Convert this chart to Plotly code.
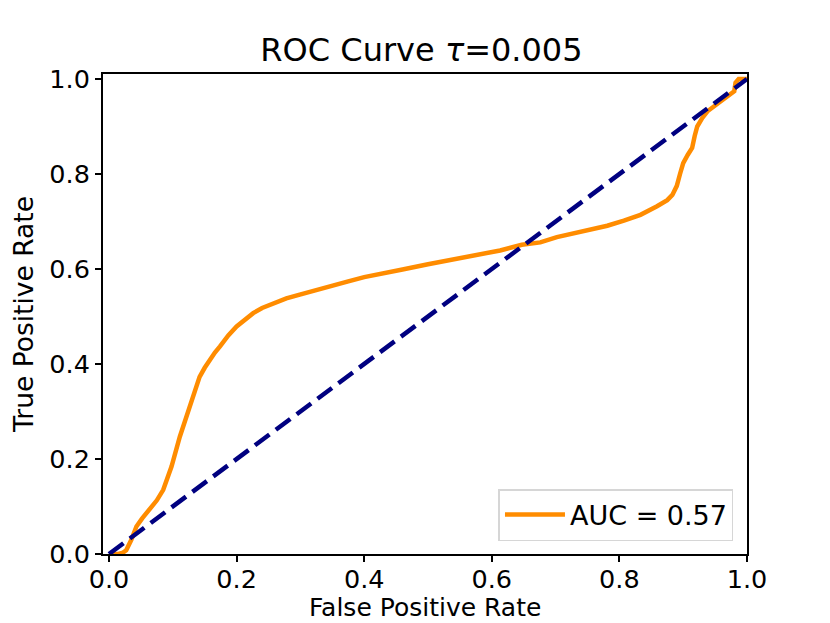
import plotly.graph_objects as go

fpr = [0.0, 0.015, 0.022, 0.027, 0.035, 0.043, 0.052, 0.064, 0.075, 0.085, 0.098, 0.111, 0.12, 0.127,
       0.135, 0.142, 0.15, 0.158, 0.166, 0.174, 0.187, 0.2, 0.213, 0.226, 0.24, 0.257, 0.278, 0.299,
       0.32, 0.341, 0.36, 0.375, 0.4, 0.43, 0.46, 0.5, 0.53, 0.56, 0.59, 0.613, 0.647, 0.676, 0.702,
       0.744, 0.781, 0.807, 0.833, 0.859, 0.875, 0.883, 0.89, 0.895, 0.9, 0.907, 0.914, 0.918,
       0.922, 0.93, 0.938, 0.959, 0.975, 0.98, 0.982, 0.987, 1.0]
tpr = [0.0, 0.0, 0.003, 0.008, 0.03, 0.058, 0.075, 0.093, 0.113, 0.135, 0.184, 0.247, 0.285, 0.31,
       0.345, 0.373, 0.392, 0.409, 0.424, 0.437, 0.46, 0.479, 0.494, 0.507, 0.518, 0.528, 0.538, 0.546,
       0.554, 0.563, 0.569, 0.574, 0.583, 0.592, 0.599, 0.61, 0.618, 0.626, 0.633, 0.639, 0.651, 0.656,
       0.667, 0.679, 0.691, 0.702, 0.714, 0.732, 0.745, 0.756, 0.775, 0.8, 0.823, 0.84, 0.855, 0.88,
       0.9, 0.918, 0.932, 0.953, 0.968, 0.974, 0.992, 1.0, 1.0]
diag = [0.0, 1.0]
auc_label = "AUC = 0.57"
ticks = [0.0, 0.2, 0.4, 0.6, 0.8, 1.0]
tick_text = ["0.0", "0.2", "0.4", "0.6", "0.8", "1.0"]
x_title = "False Positive Rate"
y_title = "True Positive Rate"

FONT = "DejaVu Sans"

fig = go.Figure()
fig.add_trace(go.Scatter(x=fpr, y=tpr, mode="lines", name=auc_label,
                         line=dict(color="darkorange", width=4.5)))
fig.add_trace(go.Scatter(x=diag, y=diag, mode="lines", showlegend=False,
                         line=dict(color="navy", width=4.5, dash="18px,8px")))

axis_common = dict(showgrid=False, zeroline=False, showline=True, linecolor="black", linewidth=2,
                   mirror=True, ticks="outside", ticklen=6, tickwidth=2, tickcolor="black",
                   tickvals=ticks, ticktext=tick_text, automargin=False,
                   tickfont=dict(family=FONT, size=25.5, color="black"))

fig.update_layout(
    width=822, height=615,
    margin=dict(l=95, r=83, t=66, b=69),
    paper_bgcolor="white", plot_bgcolor="white",
    title=dict(text="ROC Curve <i>τ</i>=0.005", x=0.503, xanchor="center", y=0.932, yanchor="middle",
               font=dict(family=FONT, size=32, color="black")),
    xaxis=dict(range=[-0.0094, 1.0], ticklabelstandoff=-5, **axis_common),
    yaxis=dict(range=[0.0, 1.0105], title=dict(text=y_title, standoff=8,
               font=dict(family=FONT, size=26.5, color="black")), **axis_common),
    legend=dict(x=0.979, y=0.027, xanchor="right", yanchor="bottom",
                bgcolor="rgba(255,255,255,0.8)", bordercolor="#d6d6d6", borderwidth=1.5,
                font=dict(family=FONT, size=27, color="black"), itemwidth=60),
    showlegend=True,
)
fig.add_annotation(text=x_title, xref="paper", yref="paper", x=0.5, y=-0.1435,
                   xanchor="center", yanchor="bottom", showarrow=False, borderpad=0,
                   font=dict(family=FONT, size=25, color="black"))

fig.write_html("out.html")
